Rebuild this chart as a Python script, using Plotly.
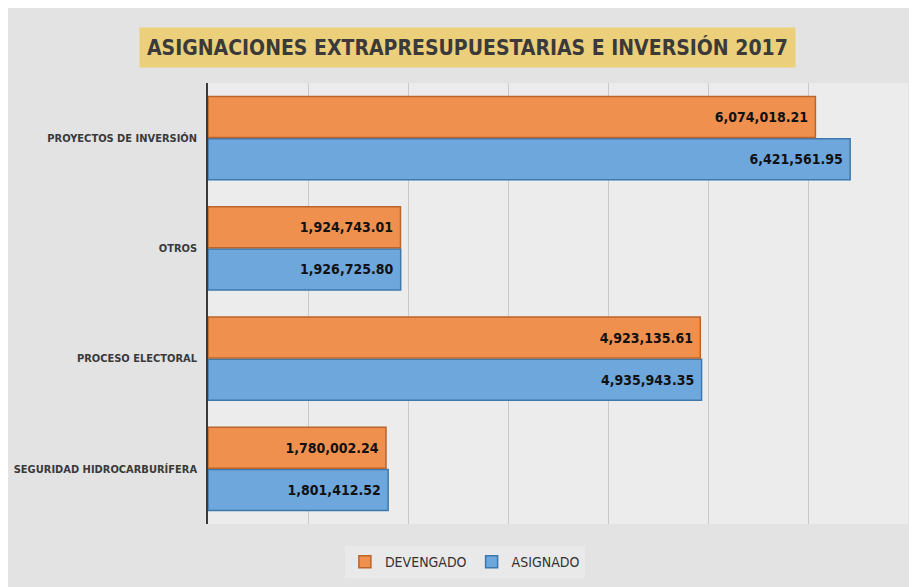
import plotly.graph_objects as go

categorias = [
    "SEGURIDAD HIDROCARBURÍFERA",
    "PROCESO ELECTORAL",
    "OTROS",
    "PROYECTOS DE INVERSIÓN",
]
devengado = [1780002.24, 4923135.61, 1924743.01, 6074018.21]
asignado = [1801412.52, 4935943.35, 1926725.80, 6421561.95]

titulo = "ASIGNACIONES EXTRAPRESUPUESTARIAS E INVERSIÓN 2017"
fuente = "DejaVu Sans Condensed, Liberation Sans Narrow, sans-serif"

fig = go.Figure()
# ASIGNADO se agrega primero para que quede debajo en cada grupo
fig.add_trace(go.Bar(
    y=categorias, x=asignado, name="ASIGNADO", orientation="h",
    marker={"color": "#6ea7dc", "line": {"color": "#3d78ad", "width": 1.5}},
    texttemplate="<b>%{x:,.2f}\u00a0</b>", textposition="inside",
    insidetextanchor="end", constraintext="none",
    textfont={"family": fuente, "size": 14, "color": "#111111"},
))
fig.add_trace(go.Bar(
    y=categorias, x=devengado, name="DEVENGADO", orientation="h",
    marker={"color": "#f0904f", "line": {"color": "#b9652c", "width": 1.5}},
    texttemplate="<b>%{x:,.2f}\u00a0</b>", textposition="inside",
    insidetextanchor="end", constraintext="none",
    textfont={"family": fuente, "size": 14, "color": "#111111"},
))

# recuadro dorado del título
fig.add_annotation(
    text=f"<b>{titulo}</b>", xref="paper", yref="paper",
    x=0.5, y=1.0, xanchor="center", yanchor="bottom",
    xshift=-91, yshift=15,
    showarrow=False, bgcolor="#ebcf7b", borderpad=7,
    font={"family": fuente, "size": 21, "color": "#3a3a3a"},
)

fig.update_layout(
    width=909, height=579,
    barmode="group", bargap=0.235, bargroupgap=0.03,
    paper_bgcolor="#e3e3e3", plot_bgcolor="#ececec",
    margin={"l": 200, "r": 9, "t": 75, "b": 59},
    font={"family": fuente, "color": "#3a3a3a"},
    showlegend=True,
    legend={
        "orientation": "h", "x": 0.367, "xanchor": "center",
        "y": -0.05, "yanchor": "top", "traceorder": "reversed",
        "bgcolor": "#e9e9e9",
        "font": {"family": fuente, "size": 14, "color": "#333333"},
        "itemwidth": 30,
    },
    xaxis={
        "range": [0, 7000000], "dtick": 1000000,
        "showticklabels": False, "showgrid": True,
        "gridcolor": "#c9c9c9", "gridwidth": 1, "zeroline": False,
        "fixedrange": True,
    },
    yaxis={
        "showline": True, "linecolor": "#3a3a3a", "linewidth": 1.5,
        "ticks": "", "ticklabelstandoff": 7, "automargin": False,
        "tickfont": {"family": fuente, "size": 11, "color": "#3a3a3a",
                     "weight": "bold"},
        "categoryorder": "array", "categoryarray": categorias,
    },
)

fig.write_html("out.html")
